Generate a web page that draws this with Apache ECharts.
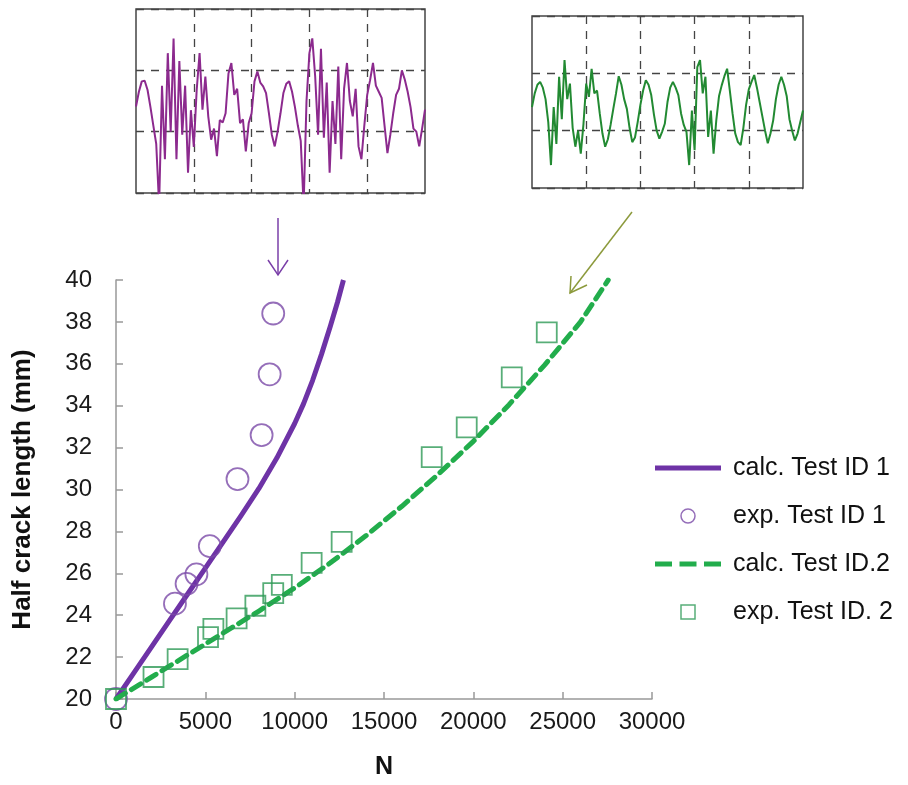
<!DOCTYPE html>
<html>
<head>
<meta charset="utf-8">
<script src="https://cdn.jsdelivr.net/npm/echarts@6/dist/echarts.min.js"></script>
<style>
html,body{margin:0;padding:0;background:#fff;}
#chart{width:908px;height:785px;}
</style>
</head>
<body>
<div id="chart"></div>
<script>
// ---- main chart data ----
var calc1N = [0, 1000, 2000, 3000, 4000, 5000, 6000, 7000, 8000, 9000, 10000, 10500, 11000, 11500, 12000, 12400, 12730];
var calc1A = [20, 21.25, 22.5, 23.75, 25.0, 26.25, 27.5, 28.75, 30.05, 31.5, 33.15, 34.1, 35.2, 36.45, 37.8, 38.95, 40];
var exp1N = [0, 3300, 3950, 4500, 5250, 6800, 8150, 8600, 8800];
var exp1A = [20, 24.55, 25.5, 25.95, 27.3, 30.5, 32.6, 35.5, 38.4];
var calc2N = [0, 2000, 4000, 6000, 8000, 10000, 12000, 14000, 16000, 18000, 20000, 22000, 24000, 26000, 27550];
var calc2A = [20, 21.05, 22.1, 23.15, 24.2, 25.3, 26.5, 27.8, 29.2, 30.7, 32.3, 34.05, 35.95, 38.0, 40];
var exp2N = [0, 2100, 3450, 5150, 5450, 6750, 7800, 8800, 9280, 10950, 12630, 17670, 19630, 22150, 24110];
var exp2A = [20, 21.05, 21.9, 22.95, 23.35, 23.85, 24.45, 25.05, 25.45, 26.5, 27.5, 31.55, 32.97, 35.35, 37.5];
var seriesNames = ['calc. Test ID 1', 'exp. Test ID 1', 'calc. Test ID.2', 'exp. Test ID. 2'];

// ---- inset load signals (sample values, grid units 0..3) ----
var signal1 = [1.41,1.65,1.82,1.83,1.68,1.40,1.10,0.80,-0.2,1.75,0.55,2.28,1.0,2.52,0.55,2.15,0.95,1.75,0.33,1.35,
  0.75,1.68,2.28,1.36,1.9,1.25,0.87,1.05,0.6,1.19,1.15,1.3,1.95,2.12,1.6,1.7,1.14,1.2,0.68,1.14,
  1.3,1.82,1.98,1.8,1.74,1.63,1.3,0.95,0.76,1.0,1.3,1.63,1.78,1.82,1.65,1.4,1.1,0.85,-0.2,1.5,
  2.28,2.52,1.9,0.95,2.35,0.9,1.8,0.33,1.5,0.8,2.06,0.55,1.7,2.12,1.5,1.25,1.7,0.76,0.55,1.1,
  1.6,1.84,2.12,1.75,1.65,1.55,1.1,0.65,0.95,1.3,1.6,1.7,2.0,1.85,1.65,1.4,1.05,1.0,0.76,1.05,1.36];
var signal2 = [1.41,1.65,1.80,1.85,1.75,1.55,1.15,0.4,1.41,0.77,1.94,1.2,2.23,1.55,1.82,1.05,0.72,1.0,0.6,1.12,
  1.82,1.59,2.08,1.65,1.7,1.3,0.95,0.72,0.85,1.1,1.38,1.65,1.95,1.8,1.55,1.38,1.05,0.8,0.88,1.15,
  1.45,1.7,1.88,1.8,1.62,1.28,1.0,0.86,0.98,1.12,1.5,1.75,1.85,1.75,1.62,1.3,1.1,0.98,0.4,1.35,
  0.66,2.11,2.23,1.65,1.94,0.89,1.35,0.6,1.18,1.6,1.79,1.95,2.08,1.7,1.3,0.95,0.8,0.75,1.05,1.45,
  1.72,1.85,1.97,1.75,1.5,1.25,1.0,0.78,0.95,1.18,1.55,1.8,1.94,1.8,1.6,1.2,1.0,0.83,0.95,1.15,1.35];

function pairs(xs, ys) { return xs.map(function (x, i) { return [x, ys[i]]; }); }
function idx(arr) { return arr.map(function (v, i) { return i; }); }

var PURPLE = '#6e33a6';
var GREEN = '#22ad4c';
var SQ = '#2e9a56';
var FONT = 'Liberation Sans, Arial, sans-serif';

var insetX = function (gi, n) {
  return {
    gridIndex: gi, type: 'category', boundaryGap: false, data: idx(n),
    axisLine: {show: false}, axisTick: {show: false}, axisLabel: {show: false},
    splitLine: {show: true, interval: function (i) { return i % 20 === 0 && i > 0 && i < 100; },
      lineStyle: {color: '#444', width: 1.3, type: [8, 7]}}
  };
};
var insetY = function (gi) {
  return {
    gridIndex: gi, type: 'value', min: 0, max: 3, interval: 1,
    axisLine: {show: false}, axisTick: {show: false}, axisLabel: {show: false},
    splitLine: {show: true, lineStyle: {color: '#444', width: 1.3, type: [8, 7]}}
  };
};

var chart = echarts.init(document.getElementById('chart'), null, {renderer: 'canvas'});
chart.setOption({
  backgroundColor: '#fff',
  animation: false,
  textStyle: {fontFamily: FONT},
  grid: [
    {left: 116, top: 280, width: 536, height: 422},
    {left: 136, top: 9, width: 289, height: 184, show: true, borderColor: '#444', borderWidth: 1.5, backgroundColor: '#fff'},
    {left: 532, top: 16, width: 271, height: 172, show: true, borderColor: '#444', borderWidth: 1.5, backgroundColor: '#fff'}
  ],
  xAxis: [
    {
      gridIndex: 0, type: 'value', min: 0, max: 30000, interval: 5000,
      name: 'N', nameLocation: 'middle', nameGap: 56,
      nameTextStyle: {fontSize: 25, fontWeight: 'bold', color: '#111', fontFamily: FONT},
      axisLine: {show: true, lineStyle: {color: '#999', width: 1.5}},
      axisTick: {show: true, inside: true, length: 7, lineStyle: {color: '#999', width: 1.5}},
      axisLabel: {fontSize: 24, color: '#1a1a1a', margin: 11, fontFamily: FONT,
        formatter: function (v) { return String(v); }},
      splitLine: {show: false}
    },
    insetX(1, signal1),
    insetX(2, signal2)
  ],
  yAxis: [
    {
      gridIndex: 0, type: 'value', min: 20, max: 40, interval: 2,
      name: 'Half crack length (mm)', nameLocation: 'middle', nameGap: 80,
      nameTextStyle: {fontSize: 26, fontWeight: 'bold', color: '#111', fontFamily: FONT},
      axisLine: {show: true, lineStyle: {color: '#999', width: 1.5}},
      axisTick: {show: true, inside: true, length: 7, lineStyle: {color: '#999', width: 1.5}},
      axisLabel: {fontSize: 24, color: '#1a1a1a', margin: 24, fontFamily: FONT},
      splitLine: {show: false}
    },
    insetY(1),
    insetY(2)
  ],
  legend: {
    orient: 'vertical', left: 650, top: 449,
    itemWidth: 66, itemHeight: 14, itemGap: 20,
    textStyle: {fontSize: 25, color: '#111', lineHeight: 28, padding: [0, 0, 0, 7], fontFamily: FONT},
    data: [
      {name: seriesNames[0], icon: 'path://M0,0H66V5H0Z', itemStyle: {color: PURPLE, borderWidth: 0}},
      {name: seriesNames[1], icon: 'circle', itemStyle: {color: '#fff', borderColor: '#7a4aa8', borderWidth: 1.5}},
      {name: seriesNames[2], icon: 'path://M0,0H17V5H0Z M24.5,0H41.5V5H24.5Z M49,0H66V5H49Z', itemStyle: {color: GREEN, borderWidth: 0}},
      {name: seriesNames[3], icon: 'path://M0,0H10V10H0Z', itemStyle: {color: '#fff', borderColor: SQ, borderWidth: 1.5}}
    ]
  },
  graphic: [
    {type: 'polyline', shape: {points: [[278, 218], [278, 275]]}, style: {stroke: '#7a3fa8', lineWidth: 1.5, fill: null}},
    {type: 'polyline', shape: {points: [[268, 260], [278, 275], [288, 260]]}, style: {stroke: '#7a3fa8', lineWidth: 1.5, fill: null}},
    {type: 'polyline', shape: {points: [[632, 212], [570, 293]]}, style: {stroke: '#8c9a3c', lineWidth: 1.5, fill: null}},
    {type: 'polyline', shape: {points: [[571, 276], [570, 293], [587, 285]]}, style: {stroke: '#8c9a3c', lineWidth: 1.5, fill: null}}
  ],
  series: [
    {
      name: seriesNames[0], type: 'line', xAxisIndex: 0, yAxisIndex: 0,
      data: pairs(calc1N, calc1A), smooth: false, symbol: 'none',
      lineStyle: {color: PURPLE, width: 5, join: 'round'}, itemStyle: {color: PURPLE}, z: 2
    },
    {
      name: seriesNames[1], type: 'scatter', xAxisIndex: 0, yAxisIndex: 0,
      data: pairs(exp1N, exp1A), symbol: 'circle', symbolSize: 22,
      itemStyle: {color: 'rgba(255,255,255,0)', borderColor: '#7a4aa8', borderWidth: 1.8}, z: 3
    },
    {
      name: seriesNames[2], type: 'line', xAxisIndex: 0, yAxisIndex: 0,
      data: pairs(calc2N, calc2A), smooth: false, symbol: 'none',
      lineStyle: {color: GREEN, width: 5, type: [11, 7], cap: 'round', join: 'round'}, itemStyle: {color: GREEN}, z: 4
    },
    {
      name: seriesNames[3], type: 'scatter', xAxisIndex: 0, yAxisIndex: 0,
      data: pairs(exp2N, exp2A), symbol: 'rect', symbolSize: 20,
      itemStyle: {color: 'rgba(255,255,255,0)', borderColor: SQ, borderWidth: 1.8}, z: 5
    },
    {
      type: 'line', xAxisIndex: 1, yAxisIndex: 1, data: signal1, symbol: 'none',
      lineStyle: {color: '#8c2a8e', width: 2}, clip: true, silent: true, z: 3
    },
    {
      type: 'line', xAxisIndex: 2, yAxisIndex: 2, data: signal2, symbol: 'none',
      lineStyle: {color: '#228a32', width: 2}, clip: true, silent: true, z: 3
    }
  ]
});
</script>
</body>
</html>
